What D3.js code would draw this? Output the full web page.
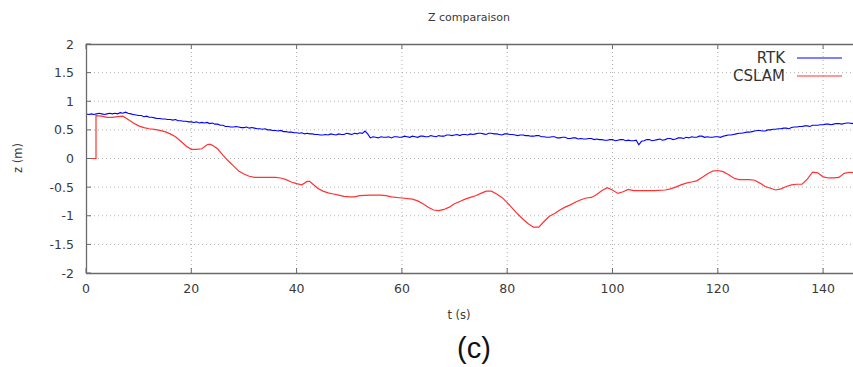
<!DOCTYPE html>
<html><head><meta charset="utf-8">
<script src="https://cdn.jsdelivr.net/npm/d3@7"></script>
<style>
html,body{margin:0;padding:0;background:#fff;}
svg{display:block;font-family:"DejaVu Sans",Verdana,sans-serif;}
</style></head>
<body><svg id="c" width="853" height="367"></svg>
<script>
const xTicks = [0,20,40,60,80,100,120,140];
const yTicks = [-2,-1.5,-1,-0.5,0,0.5,1,1.5,2];
const seriesNames = ["RTK","CSLAM"];
const rtkT = d3.range(0,146.5,0.5);
const rtkZ = [
0.78,0.77,0.78,0.77,0.78,0.79,0.78,0.77,0.78,0.79,0.78,0.79,0.78,0.80,0.79,0.81,0.79,0.78,0.77,0.76,
0.75,0.75,0.73,0.74,0.72,0.72,0.71,0.70,0.70,0.69,0.69,0.68,0.68,0.67,0.68,0.66,0.66,0.65,0.65,0.64,
0.64,0.63,0.64,0.62,0.63,0.62,0.63,0.61,0.62,0.60,0.60,0.58,0.58,0.56,0.56,0.55,0.55,0.56,0.55,0.54,
0.54,0.55,0.53,0.54,0.53,0.52,0.52,0.51,0.52,0.50,0.50,0.49,0.49,0.48,0.49,0.47,0.47,0.46,0.46,0.45,
0.45,0.44,0.45,0.43,0.44,0.43,0.43,0.42,0.42,0.41,0.41,0.42,0.41,0.43,0.42,0.41,0.43,0.42,0.42,0.44,
0.43,0.42,0.44,0.43,0.45,0.44,0.48,0.43,0.36,0.38,0.37,0.36,0.38,0.37,0.37,0.38,0.36,0.38,0.38,0.37,
0.37,0.39,0.38,0.37,0.39,0.38,0.37,0.39,0.39,0.38,0.38,0.40,0.39,0.38,0.40,0.39,0.39,0.41,0.41,0.40,
0.41,0.42,0.40,0.42,0.42,0.41,0.43,0.42,0.43,0.44,0.44,0.43,0.42,0.44,0.44,0.43,0.43,0.42,0.41,0.43,
0.43,0.42,0.42,0.41,0.40,0.41,0.41,0.40,0.40,0.39,0.39,0.40,0.40,0.38,0.38,0.37,0.37,0.38,0.38,0.36,
0.36,0.37,0.37,0.35,0.35,0.36,0.36,0.34,0.35,0.34,0.34,0.35,0.35,0.33,0.34,0.33,0.33,0.32,0.32,0.33,
0.33,0.31,0.32,0.33,0.33,0.31,0.32,0.31,0.31,0.32,0.24,0.30,0.31,0.33,0.33,0.31,0.32,0.33,0.34,0.32,
0.33,0.35,0.35,0.33,0.34,0.36,0.36,0.35,0.37,0.36,0.38,0.37,0.37,0.39,0.39,0.37,0.38,0.37,0.37,0.38,
0.38,0.37,0.39,0.40,0.41,0.41,0.42,0.43,0.44,0.44,0.45,0.46,0.46,0.47,0.48,0.49,0.49,0.48,0.48,0.50,
0.50,0.51,0.51,0.52,0.52,0.53,0.53,0.52,0.54,0.55,0.55,0.56,0.56,0.57,0.57,0.56,0.58,0.58,0.58,0.59,
0.59,0.60,0.60,0.59,0.60,0.61,0.61,0.60,0.61,0.62,0.62,0.61,0.62];
const cslamT = [0,1.9,1.9,3,4,5,6,7,8,9,10,11,12,13,14,15,16,17,18,19,20,21,22,23,23.5,24,25,26,27,28,29,30,31,32,34,36,37,38,39,40,41,42,42.5,43,44,45,46,47,48,49,50,51,52,54,56,57,58,60,62,63,64,65,66,67,68,69,70,71,72,73,74,75,76,77,78,79,80,81,82,83,84,85,86,87,88,89,90,91,92,93,94,95,96,97,98,99,100,101,102,103,104,106,108,110,111,112,113,114,115,116,117,118,119,120,121,122,123,124,125,126,127,128,129,130,131,132,133,134,135,136,137,138,139,140,141,142,143,144,145,146];
const cslamZ = [0,0,0.75,0.74,0.72,0.72,0.73,0.74,0.68,0.62,0.57,0.54,0.52,0.51,0.49,0.47,0.43,0.38,0.30,0.22,0.16,0.16,0.17,0.24,0.25,0.23,0.17,0.06,-0.04,-0.13,-0.22,-0.27,-0.31,-0.33,-0.33,-0.33,-0.34,-0.37,-0.41,-0.44,-0.46,-0.40,-0.40,-0.44,-0.52,-0.57,-0.60,-0.62,-0.64,-0.66,-0.67,-0.67,-0.65,-0.64,-0.64,-0.65,-0.67,-0.69,-0.71,-0.74,-0.79,-0.85,-0.90,-0.91,-0.89,-0.85,-0.79,-0.75,-0.71,-0.68,-0.65,-0.61,-0.57,-0.57,-0.62,-0.68,-0.77,-0.87,-0.97,-1.06,-1.14,-1.20,-1.20,-1.10,-1.01,-0.96,-0.90,-0.85,-0.81,-0.76,-0.72,-0.69,-0.68,-0.63,-0.56,-0.51,-0.55,-0.61,-0.58,-0.54,-0.56,-0.56,-0.56,-0.55,-0.53,-0.50,-0.46,-0.43,-0.41,-0.39,-0.33,-0.27,-0.22,-0.21,-0.23,-0.28,-0.34,-0.37,-0.37,-0.37,-0.38,-0.43,-0.49,-0.52,-0.55,-0.53,-0.49,-0.46,-0.45,-0.45,-0.36,-0.24,-0.25,-0.32,-0.34,-0.34,-0.33,-0.26,-0.24,-0.25];
const colors = ["#0000ff","#ff3333"];

const svg = d3.select("#c");
const L=86, T=44, B=273;
const x = d3.scaleLinear().domain([0,160]).range([L, L+160*5.265]);
const y = d3.scaleLinear().domain([-2,2]).range([B,T]);
const txt = "#3a3a3a";

// grid
const g = svg.append("g");
g.selectAll(".vg").data(xTicks.filter(d=>d>0)).enter().append("line")
 .attr("x1",d=>x(d)).attr("x2",d=>x(d)).attr("y1",T).attr("y2",B)
 .attr("stroke","#b0b0b0").attr("stroke-width",1).attr("stroke-dasharray","1,3");
g.selectAll(".hg").data(yTicks.filter(d=>d>-2&&d<2)).enter().append("line")
 .attr("x1",L).attr("x2",853).attr("y1",d=>y(d)).attr("y2",d=>y(d))
 .attr("stroke","#b0b0b0").attr("stroke-width",1).attr("stroke-dasharray","1,3");

// clip
svg.append("clipPath").attr("id","pc").append("rect").attr("x",L).attr("y",T).attr("width",853-L).attr("height",B-T);

const line = d3.line().x(d=>x(d[0])).y(d=>y(d[1]));
const n = Math.min(rtkT.length, rtkZ.length);
svg.append("path").datum(rtkT.slice(0,n).map((t,i)=>[t,rtkZ[i]])).attr("d",line)
 .attr("fill","none").attr("stroke",colors[0]).attr("stroke-width",1.1).attr("clip-path","url(#pc)");
svg.append("path").datum(cslamT.map((t,i)=>[t,cslamZ[i]])).attr("d",line)
 .attr("fill","none").attr("stroke",colors[1]).attr("stroke-width",1.2).attr("clip-path","url(#pc)");

// border
const bc="#6a6a6a";
svg.append("line").attr("x1",L+0.5).attr("x2",L+0.5).attr("y1",T).attr("y2",B+0.5).attr("stroke",bc).attr("stroke-width",1.3);
svg.append("line").attr("x1",L).attr("x2",853).attr("y1",T+0.5).attr("y2",T+0.5).attr("stroke",bc).attr("stroke-width",1.3);
svg.append("line").attr("x1",L).attr("x2",853).attr("y1",B+0.5).attr("y2",B+0.5).attr("stroke",bc).attr("stroke-width",1.3);

// ticks
svg.selectAll(".xtb").data(xTicks).enter().append("line")
 .attr("x1",d=>x(d)).attr("x2",d=>x(d)).attr("y1",B).attr("y2",B-5).attr("stroke",bc);
svg.selectAll(".xtt").data(xTicks).enter().append("line")
 .attr("x1",d=>x(d)).attr("x2",d=>x(d)).attr("y1",T).attr("y2",T+5).attr("stroke",bc);
svg.selectAll(".yt").data(yTicks).enter().append("line")
 .attr("x1",L).attr("x2",L+5).attr("y1",d=>y(d)).attr("y2",d=>y(d)).attr("stroke",bc);

// tick labels
svg.selectAll(".xl").data(xTicks).enter().append("text")
 .attr("x",d=>x(d)).attr("y",B+20).attr("text-anchor","middle")
 .attr("font-size",12.5).attr("fill",txt).text(d=>d);
svg.selectAll(".yl").data(yTicks).enter().append("text")
 .attr("x",L-12).attr("y",d=>y(d)+4.5).attr("text-anchor","end")
 .attr("font-size",12.5).attr("fill",txt).text(d=>d);

// titles
svg.append("text").attr("x",469).attr("y",21).attr("text-anchor","middle").attr("font-size",11).attr("fill",txt).text("Z comparaison");
svg.append("text").attr("x",459).attr("y",319).attr("text-anchor","middle").attr("font-size",11.5).attr("fill",txt).text("t (s)");
svg.append("text").attr("transform","translate(22,158) rotate(-90)").attr("text-anchor","middle").attr("font-size",11.5).attr("fill",txt).text("z (m)");
svg.append("text").attr("x",474).attr("y",358).attr("text-anchor","middle").attr("font-family","Liberation Sans, Arial, sans-serif").attr("font-size",29).attr("fill","#111").text("(c)");

// legend
const leg = svg.append("g");
seriesNames.forEach((nm,i)=>{
  const yy = 58 + i*18;
  leg.append("text").attr("x",785).attr("y",yy+5).attr("text-anchor","end").attr("font-size",15).attr("fill","#333").text(nm);
  leg.append("line").attr("x1",797).attr("x2",842).attr("y1",yy).attr("y2",yy).attr("stroke",colors[i]).attr("stroke-width",1.1);
});
</script></body></html>
